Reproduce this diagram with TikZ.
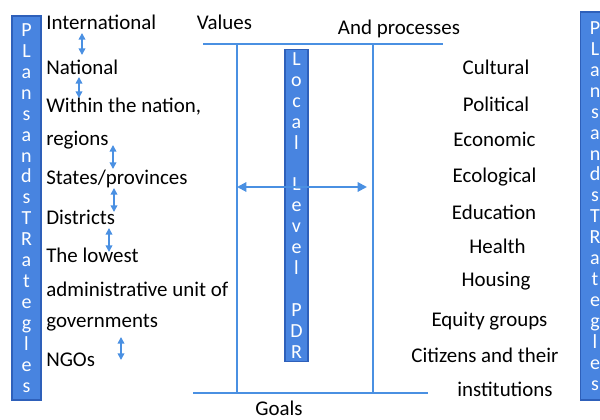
\documentclass[tikz,border=0pt]{standalone}
\usepackage{fontspec}
\setmainfont{Carlito}
\usetikzlibrary{arrows.meta}
\definecolor{barblue}{RGB}{72,132,224}
\definecolor{bardark}{RGB}{46,96,186}
\definecolor{lineblue}{RGB}{74,144,226}

\begin{document}
\begin{tikzpicture}[x=0.75pt, y=-0.75pt, main/.style = {font=\fontsize{15.7}{18}\selectfont, inner sep=0pt},
        level/.style = {main, anchor=base west},
        sector/.style = {main, anchor=base},
        bar/.style = {draw=bardark, fill=barblue, text=white, line width=1pt, inner sep=0pt, align=center, font=\fontsize{15}{15.7}\selectfont},
        frame/.style = {draw=lineblue, line width=1.5pt},
        link/.style = {{Triangle[length=5pt,width=5pt]}-{Triangle[length=5pt,width=5pt]}, draw=lineblue, line width=1.2pt},
        span/.style = {{Triangle[length=7pt,width=7pt]}-{Triangle[length=7pt,width=7pt]}, draw=lineblue, line width=1.5pt}]
    \clip (0,0) rectangle (600,420);
    % bars
    \node[bar, minimum width=21.75pt, minimum height=288pt] (left) at (26.5,208) {P\\L\\a\\n\\s\\a\\n\\d\\s\\T\\R\\a\\t\\e\\g\\l\\e\\s};
    \node[bar, minimum width=21.75pt, minimum height=291pt] (right) at (595,206) {P\\L\\a\\n\\s\\a\\n\\d\\s\\T\\R\\a\\t\\e\\g\\l\\e\\s};
    \node[bar, minimum width=17.25pt, minimum height=234pt] (pdr) at (296.5,205.5) {L\\o\\c\\a\\l\\\strut\\L\\e\\v\\e\\l\\\strut\\P\\D\\R};
    % levels
    \node[level] (intl) at (46,30) {International};
    \node[level] (natl) at (46,75) {National};
    \node[level] (within) at (46,113) {Within the nation,};
    \node[level] (regions) at (46,146) {regions};
    \node[level] (states) at (46,185) {States/provinces};
    \node[level] (districts) at (46,225) {Districts};
    \node[level] (lowest) at (46,263) {The lowest};
    \node[level] (admin) at (46,297) {administrative unit of};
    \node[level] (govts) at (46,328) {governments};
    \node[level] (ngos) at (46,367) {NGOs};
    % headings
    \node[sector] (values) at (224.5,30) {Values};
    \node[sector] (procs) at (399,35) {And processes};
    \node[sector] (goals) at (279,415) {Goals};
    % sectors
    \node[sector] (cultural) at (496,75) {Cultural};
    \node[sector] (political) at (496,112) {Political};
    \node[sector] (economic) at (494.5,147) {Economic};
    \node[sector] (ecological) at (494.5,183) {Ecological};
    \node[sector] (education) at (494,220) {Education};
    \node[sector] (health) at (497.5,254) {Health};
    \node[sector] (housing) at (496,287) {Housing};
    \node[sector] (equity) at (489.5,327) {Equity groups};
    \node[sector] (citizens) at (485,363) {Citizens and their};
    \node[sector] (instits) at (505,397) {institutions};
    % frame
    \coordinate (tl) at (203,44);
    \coordinate (tr) at (443,44);
    \coordinate (bl) at (193,393);
    \coordinate (br) at (428,393);
    \coordinate (v1t) at (237,44);
    \coordinate (v1b) at (237,393);
    \coordinate (v2t) at (373,44);
    \coordinate (v2b) at (373,393);
    \draw[frame] (tl) -- (tr);
    \draw[frame] (bl) -- (br);
    \draw[frame] (v1t) -- (v1b);
    \draw[frame] (v2t) -- (v2b);
    \coordinate (sw) at (237,187);
    \coordinate (se) at (367,187);
    \draw[span] (sw) -- (se);
    % links between levels
    \coordinate (a1) at (82,33);   \coordinate (b1) at (82,55);
    \coordinate (a2) at (79,77);   \coordinate (b2) at (79,98);
    \coordinate (a3) at (113,145); \coordinate (b3) at (113,169);
    \coordinate (a4) at (114,188); \coordinate (b4) at (114,212);
    \coordinate (a5) at (109,228); \coordinate (b5) at (109,252);
    \coordinate (a6) at (121,337); \coordinate (b6) at (121,360);
    \draw[link] (a1) -- (b1);
    \draw[link] (a2) -- (b2);
    \draw[link] (a3) -- (b3);
    \draw[link] (a4) -- (b4);
    \draw[link] (a5) -- (b5);
    \draw[link] (a6) -- (b6);
\end{tikzpicture}
\end{document}
